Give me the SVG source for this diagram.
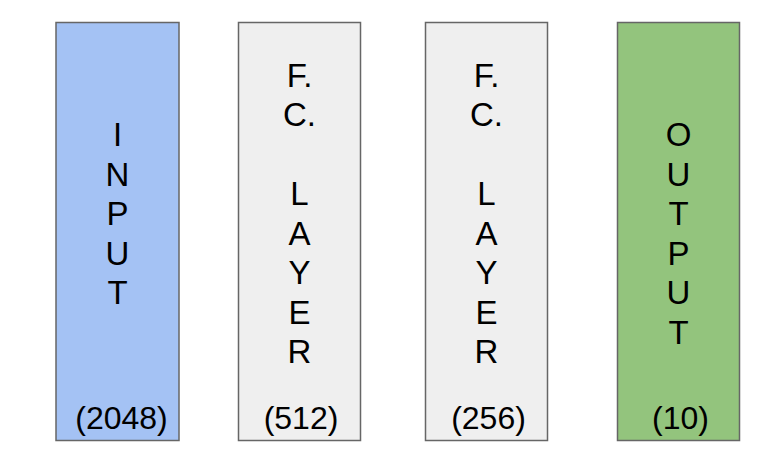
<svg xmlns="http://www.w3.org/2000/svg" width="780" height="462" viewBox="0 0 780 462">
<style>
.box{stroke:#666666;stroke-width:1.5}
.t{font-family:"Liberation Sans",Arial,sans-serif;font-size:33px;fill:#000;text-anchor:middle}
.l{font-family:"Liberation Sans",Arial,sans-serif;font-size:32px;fill:#000;text-anchor:middle}
</style>
<rect width="780" height="462" fill="#ffffff"/>
<g id="input">
<rect class="box" x="56" y="22.5" width="123" height="418" fill="#a4c2f4"/>
<text class="t"><tspan x="117.5" y="146">I</tspan><tspan x="117.5" y="185.5">N</tspan><tspan x="117.5" y="225">P</tspan><tspan x="117.5" y="264.5">U</tspan><tspan x="117.5" y="304">T</tspan></text>
<text class="l" x="121.5" y="429">(2048)</text>
</g>
<g id="fc1">
<rect class="box" x="238.5" y="22.5" width="122" height="418" fill="#efefef"/>
<text class="t"><tspan x="299.5" y="86.5">F.</tspan><tspan x="299.5" y="126">C.</tspan><tspan x="299.5" y="205">L</tspan><tspan x="299.5" y="244.5">A</tspan><tspan x="299.5" y="284">Y</tspan><tspan x="299.5" y="323.5">E</tspan><tspan x="299.5" y="363">R</tspan></text>
<text class="l" x="301" y="429">(512)</text>
</g>
<g id="fc2">
<rect class="box" x="425.5" y="22.5" width="122" height="418" fill="#efefef"/>
<text class="t"><tspan x="486.5" y="86.5">F.</tspan><tspan x="486.5" y="126">C.</tspan><tspan x="486.5" y="205">L</tspan><tspan x="486.5" y="244.5">A</tspan><tspan x="486.5" y="284">Y</tspan><tspan x="486.5" y="323.5">E</tspan><tspan x="486.5" y="363">R</tspan></text>
<text class="l" x="488.5" y="429">(256)</text>
</g>
<g id="output">
<rect class="box" x="617.5" y="22.5" width="122" height="418" fill="#93c47d"/>
<text class="t"><tspan x="678.5" y="146">O</tspan><tspan x="678.5" y="185.5">U</tspan><tspan x="678.5" y="225">T</tspan><tspan x="678.5" y="264.5">P</tspan><tspan x="678.5" y="304">U</tspan><tspan x="678.5" y="343.5">T</tspan></text>
<text class="l" x="680.5" y="429">(10)</text>
</g>
<g id="connectors"/>
</svg>
